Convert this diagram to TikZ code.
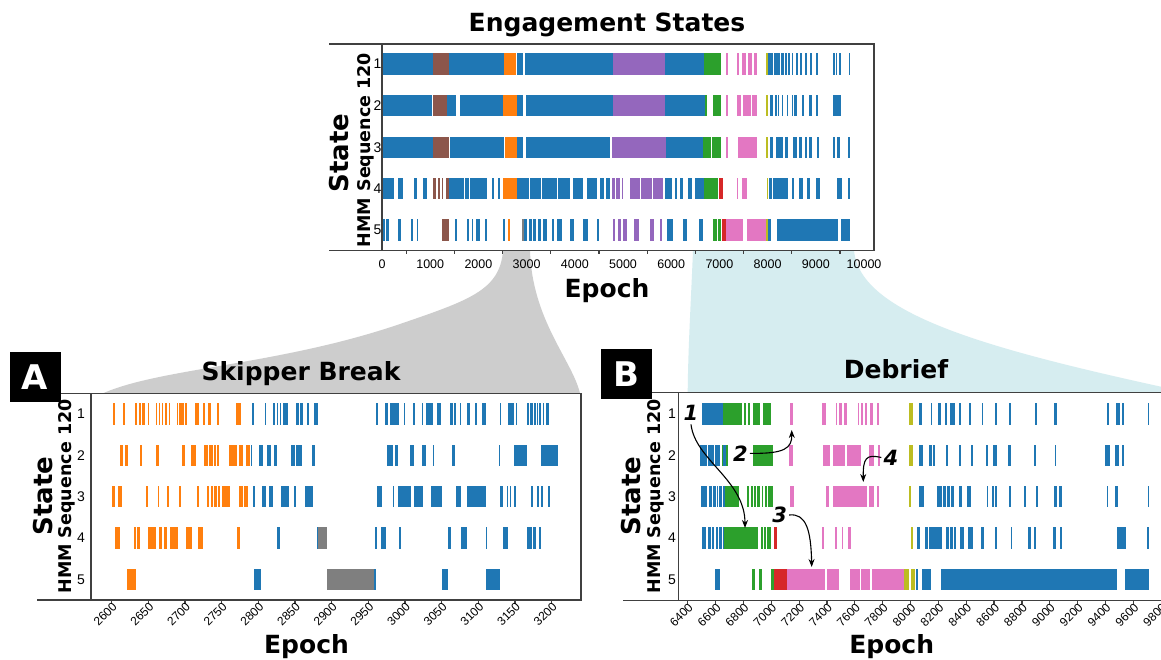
\documentclass[tikz,border=0pt]{standalone}
\usepackage{fontspec}
\setmainfont{DejaVu Sans}
\newfontfamily\arialfont{Liberation Sans}
\usetikzlibrary{arrows.meta}
\definecolor{tabblue}{RGB}{31,119,180}
\definecolor{taborange}{RGB}{255,127,14}
\definecolor{tabgreen}{RGB}{44,160,44}
\definecolor{tabred}{RGB}{214,39,40}
\definecolor{tabpurple}{RGB}{148,103,189}
\definecolor{tabbrown}{RGB}{140,86,75}
\definecolor{tabpink}{RGB}{227,119,194}
\definecolor{tabgray}{RGB}{127,127,127}
\definecolor{tabolive}{RGB}{188,189,34}
\definecolor{zoomgray}{RGB}{205,205,205}
\definecolor{zoomcyan}{RGB}{214,237,240}
\tikzset{
  frame/.style={line width=1.2pt,draw=black!75},
  bigtxt/.style={font=\fontsize{25}{30}\selectfont\bfseries,inner sep=0pt,anchor=base},
  ylab/.style={font=\fontsize{26}{30}\selectfont\bfseries,rotate=90,anchor=base,inner sep=0pt},
  seqlab/.style={font=\fontsize{17.5}{20}\selectfont\bfseries,rotate=90,anchor=base,inner sep=0pt},
  rowlab/.style={font={\arialfont\fontsize{14}{16}\selectfont},inner sep=0pt},
  ticklab/.style={font={\arialfont\fontsize{12.5}{14}\selectfont},inner sep=0pt,anchor=base},
  rticklab/.style={font={\arialfont\fontsize{12}{14}\selectfont},inner sep=0pt,anchor=north east,rotate=45},
  panel/.style={fill=black,text=white,font=\fontsize{34}{36}\selectfont\bfseries,minimum width=51pt,minimum height=50pt,inner sep=0pt},
  num/.style={font=\fontsize{21}{24}\selectfont\bfseries\itshape,inner sep=0pt},
  ann/.style={-{Stealth[length=8pt,width=6pt]},line width=1.1pt}
}
% one row of state bars: y centre, colour, start/end epochs
\newcommand{\statebars}[3]{\foreach \a/\b in {#3} {\fill[#2] (\a,#1-10.6) rectangle (\b,#1+10.6);}}

\begin{document}
\begin{tikzpicture}[x=1pt,y=-1pt]
  \useasboundingbox (0,0) rectangle (1161,659);
  \clip (0,0) rectangle (1161,659);
  \fill[white] (0,0) rectangle (1161,659);

  % zoom funnels
  \fill[zoomgray] (503,250.5) .. controls (500,290) and (470,300) .. (400,324) .. controls (280,365) and (160,368) .. (103,393.3) -- (580,393.3) .. controls (572,360) and (532,320) .. (530,250.5) -- cycle;
  \fill[zoomcyan] (693,250.5) .. controls (691,300) and (688,350) .. (687.7,392.3) -- (1190,393) .. controls (990,350) and (860,315) .. (854,250.5) -- cycle;

  % engagement states (whole session)
  \begin{scope}[x=0.0482pt,xshift=382pt]
    \statebars{64}{tabblue}{0/1050,1400/2540,2800/2930,2970/4800,5870/6680,8010/8060,8080/8120,8140/8250,8270/8330,8350/8400,8430/8460,8500/8530,8580/8620,8680/8720,8780/8810,8880/8915,9005/9050,9365/9400,9420/9440,9480/9515,9680/9710}
    \statebars{64}{tabbrown}{1050/1400}
    \statebars{64}{taborange}{2540/2790}
    \statebars{64}{tabpurple}{4800/5870}
    \statebars{64}{tabgreen}{6680/7030}
    \statebars{64}{tabpink}{7140/7180,7370/7410,7460/7560,7600/7680,7720/7780}
    \statebars{64}{tabolive}{7960/8010}
    \statebars{105.5}{tabblue}{0/1040,1355/1535,1618/2504,2794/2932,2988/4800,5872/6702,8050/8120,8154/8188,8223/8244,8292/8326,8396/8430,8500/8520,8548/8603,8707/8755,8866/8915,9005/9053,9364/9516}
    \statebars{105.5}{tabbrown}{1051/1355}
    \statebars{105.5}{taborange}{2517/2794}
    \statebars{105.5}{tabpurple}{4800/5872}
    \statebars{105.5}{tabgreen}{6702/6736,6875/7027}
    \statebars{105.5}{tabpink}{7137/7179,7359/7441,7483/7649,7670/7788}
    \statebars{105.5}{tabolive}{7960/8016}
    \statebars{147.5}{tabblue}{0/1051,1410/2531,2808/2932,2980/4730,5885/6667,8050/8120,8175/8327,8361/8430,8520/8603,8659/8707,8776/8811,8866/8915,9019/9074,9364/9399,9447/9502,9676/9710}
    \statebars{147.5}{tabbrown}{1051/1397}
    \statebars{147.5}{taborange}{2552/2794}
    \statebars{147.5}{tabpurple}{4765/5885}
    \statebars{147.5}{tabgreen}{6667/6820,6840/7027}
    \statebars{147.5}{tabpink}{7137/7179,7393/7774}
    \statebars{147.5}{tabolive}{7960/8016}
    \statebars{188.5}{tabblue}{28/249,339/443,671/733,858/940,1397/1549,1563/1708,1722/1812,1826/1964,1978/2172,2275/2324,2400/2448,2794/3050,3070/3300,3320/3624,3659/3901,3970/4177,4246/4454,4523/4600,4640/4730,5872/6010,6079/6114,6183/6252,6356/6425,6494/6681,8036/8100,8110/8250,8260/8330,8345/8430,8500/8548,8659/8728,8811/8880,9005/9088,9447/9537,9676/9710}
    \statebars{188.5}{tabbrown}{1051/1120,1169/1204,1238/1273,1328/1397}
    \statebars{188.5}{taborange}{2517/2794}
    \statebars{188.5}{tabpurple}{4765/4834,4855/4938,4973/5007,5146/5350,5380/5600,5630/5837}
    \statebars{188.5}{tabgreen}{6681/6978}
    \statebars{188.5}{tabred}{7000/7069}
    \statebars{188.5}{tabpink}{7359/7380,7462/7580}
    \statebars{188.5}{tabolive}{7981/8009}
    \statebars{230}{tabblue}{28/62,83/152,339/387,595/650,719/754,1515/1563,1757/1812,1860/1895,1950/2033,2137/2185,2517/2552,2946/3002,3057/3105,3140/3200,3230/3300,3330/3416,3520/3569,3624/3728,3901/3984,4177/4281,4454/4495,5920/6031,6238/6335,6584/6667,8016/8064,8188/9468,9516/9710}
    \statebars{230}{tabbrown}{1238/1390}
    \statebars{230}{taborange}{2607/2656}
    \statebars{230}{tabgray}{2898/2946}
    \statebars{230}{tabpurple}{4800/4841,4903/4960,4990/5090,5235/5339,5560/5643,5768/5803}
    \statebars{230}{tabgreen}{6875/6957,6978/7027}
    \statebars{230}{tabred}{7047/7137}
    \statebars{230}{tabpink}{7137/7497,7566/7960}
    \statebars{230}{tabolive}{7960/8016}
    \foreach \t in {500,1500,...,9500} \draw[frame] (\t,250.5) -- (\t,254);
    \foreach \t in {0,1000,...,10000} \node[ticklab] (tt\t) at (\t,268) {\t};
  \end{scope}
  \draw[frame] (329,44) -- (874,44) -- (874,250.5) -- (329,250.5);
  \draw[frame] (382,44) -- (382,250.5);
  \foreach \r/\y in {1/64,2/105.5,3/147.5,4/188.5,5/230} \node[rowlab] (rt\r) at (377.5,\y) {\r};
  \node[bigtxt] (ttop) at (607,31) {Engagement States};
  \node[bigtxt] (xtop) at (607,297) {Epoch};
  \node[ylab] (ytop) at (348.5,153) {State};
  \node[seqlab] (stop) at (370.5,150) {HMM Sequence 120};

  % panel A: skipper break
  \begin{scope}[x=0.7333pt,xshift=-1794.9pt]
    \statebars{414}{taborange}{2602/2605,2615/2618,2632/2635,2637/2640,2642/2645,2649/2651,2660/2662,2664/2666,2668/2670,2673/2676,2678/2680,2689/2691,2692/2694,2695/2698,2700/2703,2714/2719,2724/2727,2732/2735,2743/2746,2770/2776}
    \statebars{414}{tabblue}{2792/2794,2809/2811,2820/2823,2825/2827,2829/2830,2833/2840,2851/2855,2857/2861,2866/2869,2876/2881,2961/2963,2973/2977,2979/2992,2998/3000,3011/3013,3023/3025,3029/3038,3043/3049,3062/3065,3067/3070,3075/3077,3084/3089,3095/3098,3105/3111,3129/3131,3140/3148,3151/3152,3167/3169,3171/3175,3176/3179,3180/3182,3183/3185,3188/3189,3192/3197}
    \statebars{455.5}{taborange}{2612/2616,2618/2622,2638/2641,2660/2664,2696/2700,2708/2715,2726/2732,2733/2738,2740/2742,2744/2747,2760/2771,2773/2779,2783/2789}
    \statebars{455.5}{tabblue}{2790/2792,2801/2806,2812/2817,2821/2826,2844/2850,2852/2860,2873/2877,2976/2984,2986/2990,3007/3012,3023/3029,3038/3040,3064/3068,3128/3130,3148/3167,3186/3196,3197/3209}
    \statebars{496.8}{taborange}{2601/2604,2609/2614,2647/2650,2663/2665,2676/2678,2692/2695,2716/2719,2730/2733,2735/2738,2740/2743,2745/2748,2750/2761,2774/2779,2780/2786}
    \statebars{496.8}{tabblue}{2793/2795,2805/2810,2814/2820,2831/2842,2849/2852,2863/2874,2962/2968,2983/2985,2990/3008,3012/3024,3035/3050,3069/3076,3085/3110,3129/3133,3139/3141,3143/3145,3149/3152,3172/3175,3180/3183,3185/3188,3195/3198}
    \statebars{538}{taborange}{2605/2611,2631/2633,2635/2639,2650/2661,2665/2668,2671/2676,2679/2691,2701/2710,2718/2725,2771/2775}
    \statebars{538}{tabblue}{2826/2830,2880/2882,2959/2962,2967/2974,2992/2994,3058/3063,3076/3085,3110/3112,3133/3140,3167/3173,3175/3179,3183/3185}
    \statebars{538}{tabgray}{2882/2894}
    \statebars{579.3}{taborange}{2621/2633}
    \statebars{579.3}{tabblue}{2794/2804,2958/2960,3050/3059,3111/3129}
    \statebars{579.3}{tabgray}{2893/2958}
    \foreach \t in {2600,2650,...,3200} {
      \draw[frame] (\t,600) -- (\t,603.5);
      \node[rticklab] (ta\t) at (\t,601.5) {\t};
    }
  \end{scope}
  \draw[frame] (37,393.3) -- (581,393.3) -- (581,600) -- (37,600);
  \draw[frame] (91,393.3) -- (91,600);
  \foreach \r/\y in {1/414,2/455.5,3/496.8,4/538,5/579.3} \node[rowlab] (ra\r) at (81,\y) {\r};
  \node[panel] (boxa) at (35,377) {A};
  \node[bigtxt] (tA) at (301,380) {Skipper Break};
  \node[bigtxt] (xA) at (306.5,653) {Epoch};
  \node[ylab] (yA) at (52,496) {State};
  \node[seqlab] (sA) at (71,496.5) {HMM Sequence 120};

  % panel B: debrief
  \begin{scope}[x=0.13925pt,xshift=-203.5pt]
    \statebars{414}{tabblue}{6505/6656,8061/8085,8147/8157,8197/8221,8250/8264,8284/8319,8351/8365,8422/8434,8513/8523,8607/8621,8710/8722,8892/8906,9030/9050,9409/9423,9476/9505,9516/9533,9703/9715}
    \statebars{414}{tabgreen}{6656/6788,6805/6819,6836/6850,6867/6919,6939/6999}
    \statebars{414}{tabpink}{7135/7159,7367/7391,7463/7475,7489/7511,7525/7542,7621/7633,7645/7662,7674/7686,7709/7733,7757/7771}
    \statebars{414}{tabolive}{7991/8015}
    \statebars{455.5}{tabblue}{6489/6541,6548/6589,6599/6632,6656/6675,8063/8087,8135/8152,8164/8178,8255/8272,8351/8363,8432/8446,8542/8559,8590/8619,8703/8719,8889/8901,9038/9045,9397/9433,9469/9500,9516/9533}
    \statebars{455.5}{tabgreen}{6644/6656,6675/6692,6867/7010}
    \statebars{455.5}{tabpink}{7130/7154,7372/7424,7446/7529,7542/7647,7699/7738,7764/7782}
    \statebars{455.5}{tabolive}{7991/8015}
    \statebars{496.8}{tabblue}{6496/6541,6555/6572,6584/6603,6608/6620,6627/6644,6651/6668,8061/8097,8188/8224,8231/8255,8264/8284,8288/8312,8351/8367,8408/8432,8547/8559,8585/8600,8607/8623,8710/8724,8815/8827,8901/8913,9033/9050,9069/9086,9409/9421,9469/9493,9703/9715}
    \statebars{496.8}{tabgreen}{6668/6771,6828/6843,6852/6867,6874/6888,6896/6920,6931/6943,6955/6967,6979/7010}
    \statebars{496.8}{tabpink}{7135/7164,7391/7415,7446/7690,7705/7738,7757/7771}
    \statebars{496.8}{tabolive}{7989/8001}
    \statebars{538}{tabblue}{6505/6529,6548/6565,6577/6592,6601/6620,6627/6644,6651/6663,8044/8068,8104/8128,8135/8224,8255/8274,8284/8303,8312/8327,8355/8384,8410/8451,8506/8530,8607/8623,8719/8731,8841/8865,8887/8899,9026/9043,9073/9088,9481/9548,9701/9713}
    \statebars{538}{tabgreen}{6663/6908,6924/6939,6948/6963,6972/6996}
    \statebars{538}{tabred}{7020/7039}
    \statebars{538}{tabpink}{7367/7379,7458/7470,7506/7518,7554/7571}
    \statebars{538}{tabolive}{8001/8015}
    \statebars{579.3}{tabblue}{6596/6632,8039/8056,8085/8147,8219/9481,9541/9713}
    \statebars{579.3}{tabgreen}{6864/6884,6912/6936,6999/7022}
    \statebars{579.3}{tabred}{7022/7111}
    \statebars{579.3}{tabpink}{7111/7385,7398/7489,7568/7634,7647/7712,7725/7953}
    \statebars{579.3}{tabolive}{7953/7991,8001/8032}
    \foreach \t in {6400,6600,...,9800} {
      \draw[frame] (\t,600.7) -- (\t,604.2);
      \node[rticklab] (tb\t) at (\t,602.2) {\t};
    }
  \end{scope}
  \draw[frame] (623,392.3) -- (1170,392.3);
  \draw[frame] (623,600.7) -- (1170,600.7);
  \draw[frame] (678.3,392.3) -- (678.3,600.7);
  \foreach \r/\y in {1/414,2/455.5,3/496.8,4/538,5/579.3} \node[rowlab] (rb\r) at (672,\y) {\r};
  \node[panel] (boxb) at (626,373.7) {B};
  \node[bigtxt] (tB) at (896,378) {Debrief};
  \node[bigtxt] (xB) at (891.7,653) {Epoch};
  \node[ylab] (yB) at (640,496) {State};
  \node[seqlab] (sB) at (660,496.5) {HMM Sequence 120};

  % transitions marked in the debrief
  \node[num] (n1) at (691,412.5) {1};
  \node[num] (n2) at (740.3,453.3) {2};
  \node[num] (n3) at (779.7,515) {3};
  \node[num] (n4) at (890.8,457.5) {4};
  \coordinate (t1) at (745,528);
  \coordinate (t2) at (791.7,430);
  \coordinate (t3) at (811.7,567);
  \coordinate (t4) at (863.3,482);
  \draw[ann] ([yshift=-4pt]n1.south) .. controls (695,460) and (745,480) .. (t1);
  \draw[ann] ([xshift=2pt]n2.east) .. controls (785,454) and (792,448) .. (t2);
  \draw[ann] ([xshift=2pt]n3.east) .. controls (806,513) and (811,530) .. (t3);
  \draw[ann] ([xshift=-2pt]n4.west) .. controls (866,454) and (863,458) .. (t4);
\end{tikzpicture}
\end{document}
